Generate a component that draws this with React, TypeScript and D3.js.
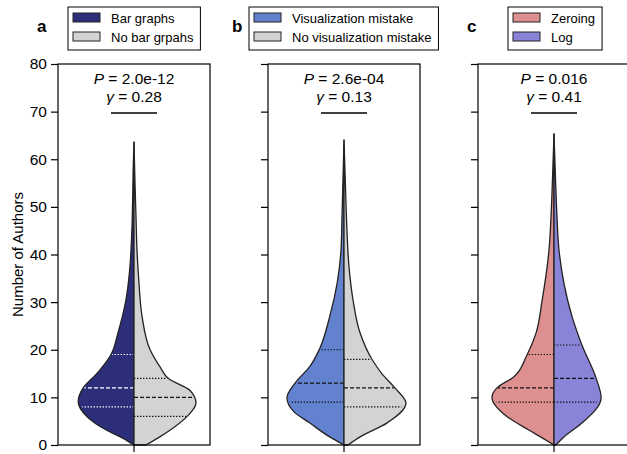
import React, { useEffect, useRef } from 'react';
import * as d3 from 'd3';

const panels = ['a', 'b', 'c'];
const legendLabels = [
  ['Bar graphs', 'No bar grpahs'],
  ['Visualization mistake', 'No visualization mistake'],
  ['Zeroing', 'Log'],
];
const leftColors = ['#2c2e7a', '#6282cf', '#de8f8f'];
const rightColors = ['#d3d3d3', '#d3d3d3', '#8a84d8'];
const pValues = ['2.0e-12', '2.6e-04', '0.016'];
const gammaValues = ['0.28', '0.13', '0.41'];
const yTicks = [0, 10, 20, 30, 40, 50, 60, 70, 80];

// [Q1, median, Q3]
const leftQuartiles = [[8, 12, 19], [9, 13, 20], [9, 12, 19]];
const rightQuartiles = [[6, 10, 14], [8, 12, 18], [9, 14, 21]];

// kernel density outlines, relative to the widest half
const aLeftLevels = [0, 1.5, 3.1, 6, 9.1, 12, 15, 19, 23.5, 30.5, 37.5, 41, 46, 52, 58, 63.6];
const aLeftDensity = [0, 0.19, 0.44, 0.76, 0.9, 0.82, 0.6, 0.37, 0.26, 0.13, 0.065, 0.048, 0.032, 0.021, 0.013, 0];
const aRightLevels = [0, 1.5, 3.1, 5.9, 8.8, 11.5, 13.9, 16.4, 20, 27, 34, 41, 48, 55, 63.6];
const aRightDensity = [0.19, 0.39, 0.58, 0.85, 1.0, 0.9, 0.56, 0.42, 0.26, 0.13, 0.08, 0.048, 0.032, 0.016, 0];
const bLeftLevels = [0, 1.7, 4.6, 7, 9.9, 13, 16.5, 20, 27, 34, 41, 48, 56, 64];
const bLeftDensity = [0, 0.23, 0.55, 0.81, 0.92, 0.79, 0.55, 0.4, 0.23, 0.11, 0.048, 0.032, 0.016, 0];
const bRightLevels = [0, 1.7, 4.6, 8.8, 12, 15, 18, 23.5, 30.5, 37.5, 45, 54, 64];
const bRightDensity = [0.065, 0.26, 0.69, 1.0, 0.82, 0.61, 0.45, 0.26, 0.145, 0.08, 0.048, 0.024, 0];
const cLeftLevels = [0, 1.5, 3.1, 6, 10, 12, 14.3, 18.8, 23.5, 30.5, 37.5, 41, 48, 56, 65.3];
const cLeftDensity = [0, 0.19, 0.4, 0.76, 1.0, 0.92, 0.65, 0.44, 0.29, 0.19, 0.11, 0.08, 0.048, 0.024, 0];
const cRightLevels = [0, 1.7, 4.6, 9.9, 14, 21, 27, 34, 41, 48, 56, 65.3];
const cRightDensity = [0.03, 0.16, 0.45, 0.76, 0.68, 0.45, 0.29, 0.16, 0.08, 0.048, 0.024, 0];

const halves = [
  [[aLeftLevels, aLeftDensity], [aRightLevels, aRightDensity]],
  [[bLeftLevels, bLeftDensity], [bRightLevels, bRightDensity]],
  [[cLeftLevels, cLeftDensity], [cRightLevels, cRightDensity]],
];

const font = '"Liberation Sans", Arial, Helvetica, sans-serif';

export default function App() {
  const ref = useRef<SVGSVGElement>(null);

  useEffect(() => {
    const svg = d3.select(ref.current);
    svg.selectAll('*').remove();

    const top = 64;
    const bottom = 445;
    const panelW = 152;
    const panelLeft = (i: number) => 58 + i * 210;

    const y = d3.scaleLinear().domain([0, 80]).range([bottom, top]);
    const w = d3.scaleLinear().domain([0, 1]).range([0, 62]);

    const legendX = [68, 249, 508];
    const labelX = [37, 232, 467];

    panels.forEach((p, i) => {
      const x0 = panelLeft(i);
      const cx = x0 + panelW / 2;
      const g = svg.append('g');

      // violins
      halves[i].forEach(([levels, dens], side) => {
        const sign = side === 0 ? -1 : 1;
        const pts = levels.map((v, k) => [v, dens[k]]);
        const area = d3
          .area<number[]>()
          .y((d) => y(d[0]))
          .x0(cx)
          .x1((d) => cx + sign * w(d[1]))
          .curve(d3.curveMonotoneY);
        g.append('path')
          .attr('d', area(pts))
          .attr('fill', side === 0 ? leftColors[i] : rightColors[i])
          .attr('stroke', 'none');

        const widthAt = d3.scaleLinear().domain(levels).range(dens).clamp(true);
        const qs = side === 0 ? leftQuartiles[i] : rightQuartiles[i];
        const lineColor = side === 0 && i === 0 ? '#ffffff' : '#111111';
        qs.forEach((q, k) => {
          g.append('line')
            .attr('x1', cx)
            .attr('x2', cx + sign * (w(widthAt(q)) - 1))
            .attr('y1', y(q))
            .attr('y2', y(q))
            .attr('stroke', lineColor)
            .attr('stroke-width', 1.2)
            .attr('stroke-dasharray', k === 1 ? '4,2' : '1.4,1.6');
        });

        g.append('path')
          .attr('d', area(pts))
          .attr('fill', 'none')
          .attr('stroke', '#222')
          .attr('stroke-width', 1.3)
          .attr('stroke-linejoin', 'round');
      });

      // frame
      g.append('rect')
        .attr('x', x0)
        .attr('y', top)
        .attr('width', panelW)
        .attr('height', bottom - top)
        .attr('fill', 'none')
        .attr('stroke', '#000')
        .attr('stroke-width', 1.2);

      const axis = d3
        .axisLeft(y)
        .tickValues(yTicks)
        .tickSize(7)
        .tickPadding(4)
        .tickFormat(i === 0 ? (d) => String(d) : () => '');
      const ag = g.append('g').attr('transform', `translate(${x0},0)`).call(axis);
      ag.select('.domain').remove();
      ag.selectAll('line').attr('stroke', '#000').attr('stroke-width', 1.2);
      ag.selectAll('text').attr('font-size', 15.5).attr('font-family', font).attr('fill', '#000');

      g.append('line')
        .attr('x1', cx)
        .attr('x2', cx)
        .attr('y1', bottom)
        .attr('y2', bottom + 7)
        .attr('stroke', '#000')
        .attr('stroke-width', 1.2);

      // statistics
      const st = g.append('text')
        .attr('x', cx)
        .attr('y', 84)
        .attr('text-anchor', 'middle')
        .attr('font-size', 15.5)
        .attr('font-family', font);
      st.append('tspan').attr('font-style', 'italic').text('P');
      st.append('tspan').text(' = ' + pValues[i]);
      const gt = g.append('text')
        .attr('x', cx)
        .attr('y', 101.5)
        .attr('text-anchor', 'middle')
        .attr('font-size', 15.5)
        .attr('font-family', font);
      gt.append('tspan').attr('font-style', 'italic').text('γ');
      gt.append('tspan').text(' = ' + gammaValues[i]);
      g.append('line')
        .attr('x1', cx - 23)
        .attr('x2', cx + 23)
        .attr('y1', 113)
        .attr('y2', 113)
        .attr('stroke', '#000')
        .attr('stroke-width', 1.3);

      // panel letter
      g.append('text')
        .attr('x', labelX[i])
        .attr('y', 32)
        .attr('font-size', 17)
        .attr('font-weight', 'bold')
        .attr('font-family', font)
        .text(p);

      // legend
      const lx = legendX[i];
      const lg = g.append('g');
      const box = lg.append('rect')
        .attr('x', lx)
        .attr('y', 7)
        .attr('height', 43)
        .attr('fill', '#fff')
        .attr('stroke', '#000')
        .attr('stroke-width', 1);
      let maxLen = 0;
      legendLabels[i].forEach((lab, k) => {
        lg.append('rect')
          .attr('x', lx + 5)
          .attr('y', 13 + k * 19)
          .attr('width', 27)
          .attr('height', 9)
          .attr('fill', k === 0 ? leftColors[i] : rightColors[i])
          .attr('stroke', '#222')
          .attr('stroke-width', 1);
        const t = lg.append('text')
          .attr('x', lx + 43)
          .attr('y', 23 + k * 19)
          .attr('font-size', 13)
          .attr('font-family', font)
          .text(lab);
        const len = (t.node() as SVGTextElement).getComputedTextLength();
        maxLen = Math.max(maxLen, len);
      });
      box.attr('width', 43 + maxLen + 7);
    });

    svg.append('text')
      .attr('transform', `translate(23,${(top + bottom) / 2}) rotate(-90)`)
      .attr('text-anchor', 'middle')
      .attr('font-size', 15)
      .attr('font-family', font)
      .text('Number of Authors');
  }, []);

  return (
    <svg
      ref={ref}
      width={627}
      height={454}
      style={{ position: 'absolute', left: 0, top: 0, background: '#fff' }}
    />
  );
}
